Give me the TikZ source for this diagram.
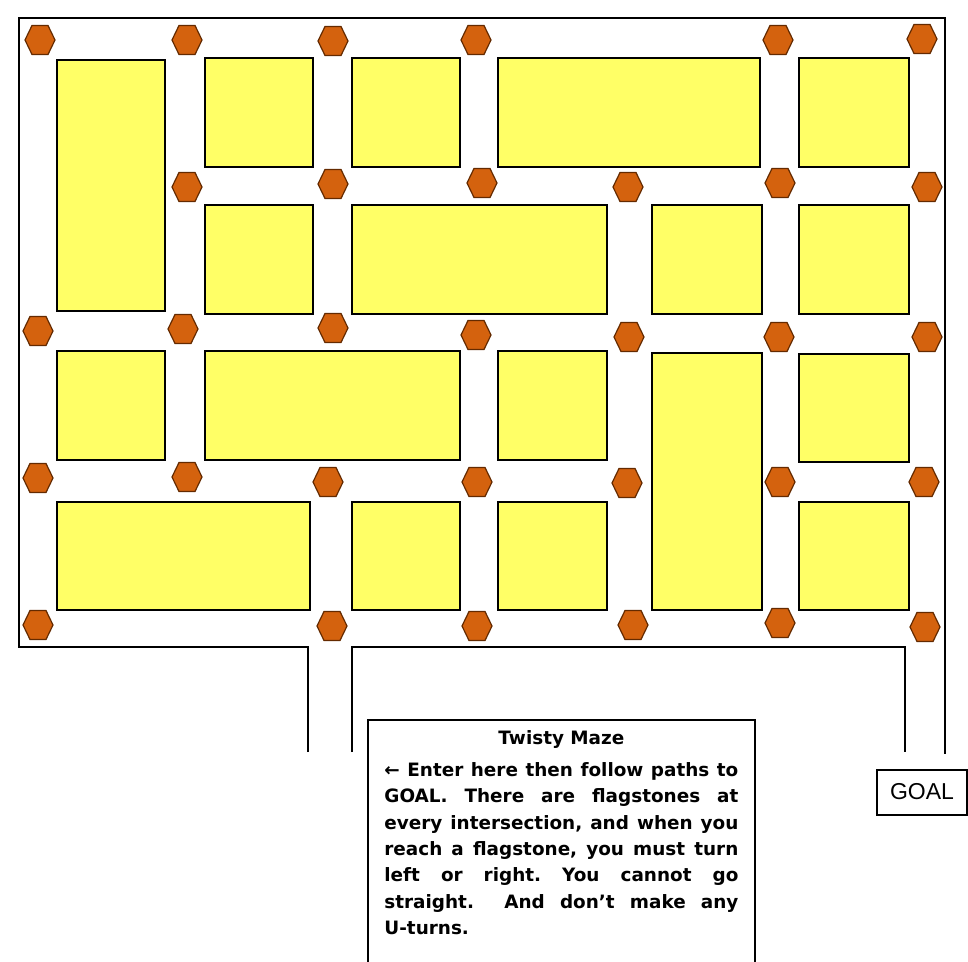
\documentclass[tikz,border=0pt]{standalone}
\usepackage{fontspec}
\setmainfont{DejaVu Sans}
\newfontfamily\goalfont{Liberation Sans}
\usetikzlibrary{positioning}

\definecolor{stone}{RGB}{255,255,102}
\definecolor{flagfill}{RGB}{212,98,14}
\definecolor{flagline}{RGB}{100,42,0}

\begin{document}
\begin{tikzpicture}[x=0.5pt, y=-0.5pt,
    wall/.style={line width=1.3pt},
    block/.style={draw, line width=1pt, fill=stone},
    flag/.style={draw=flagline, line width=0.6pt, fill=flagfill},
    rulebox/.style={anchor=north west, text width=177pt, inner xsep=8pt, inner ysep=5pt,
        align=justify, font=\bfseries\frenchspacing\fontsize{9.2}{13.2}\selectfont},
    goalbox/.style={draw, line width=1pt, minimum width=45pt, minimum height=22.5pt,
        inner sep=0pt, font=\goalfont\fontsize{11.5}{13}\selectfont}]
    \useasboundingbox (0,0) rectangle (968,962);
    \coordinate (floor) at (0,962);

    % yellow blocks
    \foreach \xa/\ya/\xb/\yb in {57/60/165/311, 205/58/313/167, 352/58/460/167, 498/58/760/167, 799/58/909/167,
        205/205/313/314, 352/205/607/314, 652/205/762/314, 799/205/909/314,
        57/351/165/460, 205/351/460/460, 498/351/607/460, 652/353/762/610, 799/354/909/462,
        57/502/310/610, 352/502/460/610, 498/502/607/610, 799/502/909/610} {
        \draw[block] (\xa,\ya) rectangle (\xb,\yb);
    }

    % flagstones
    \foreach \x/\y in {40/40, 187/40, 333/41, 476/40, 778/40, 922/39,
        187/187, 333/184, 482/183, 628/187, 780/183, 927/187,
        38/331, 183/329, 333/328, 476/335, 629/337, 779/337, 927/337,
        38/478, 187/477, 328/482, 477/482, 627/483, 780/482, 924/482,
        38/625, 332/626, 477/626, 633/625, 780/623, 925/627} {
        \draw[flag] (\x,\y) +(-15,0) -- +(-8,-14.5) -- +(8,-14.5) -- +(15,0) -- +(8,14.5) -- +(-8,14.5) -- cycle;
    }

    % outer walls
    \draw[wall] (308,752) -- (308,647) -- (19,647) -- (19,18) -- (945,18) -- (945,754);
    \draw[wall] (352,752) -- (352,647) -- (905,647) -- (905,752);

    % rules
    \node[rulebox] (rules) at (368,720) {%
        {\centering Twisty Maze\par}\vspace{2.8pt}
        ← Enter here then follow paths to\linebreak
        GOAL. There are flagstones at\linebreak
        every intersection, and when you\linebreak
        reach a flagstone, you must turn\linebreak
        left or right. You cannot go\linebreak
        straight.\ \ And don't make any\linebreak
        U-turns.};
    \draw[line width=1pt] (rules.north west |- floor) -- (rules.north west)
        -- (rules.north east) -- (rules.north east |- floor);

    % goal
    \node[goalbox] (goal) at (922,792) {GOAL};
\end{tikzpicture}
\end{document}
